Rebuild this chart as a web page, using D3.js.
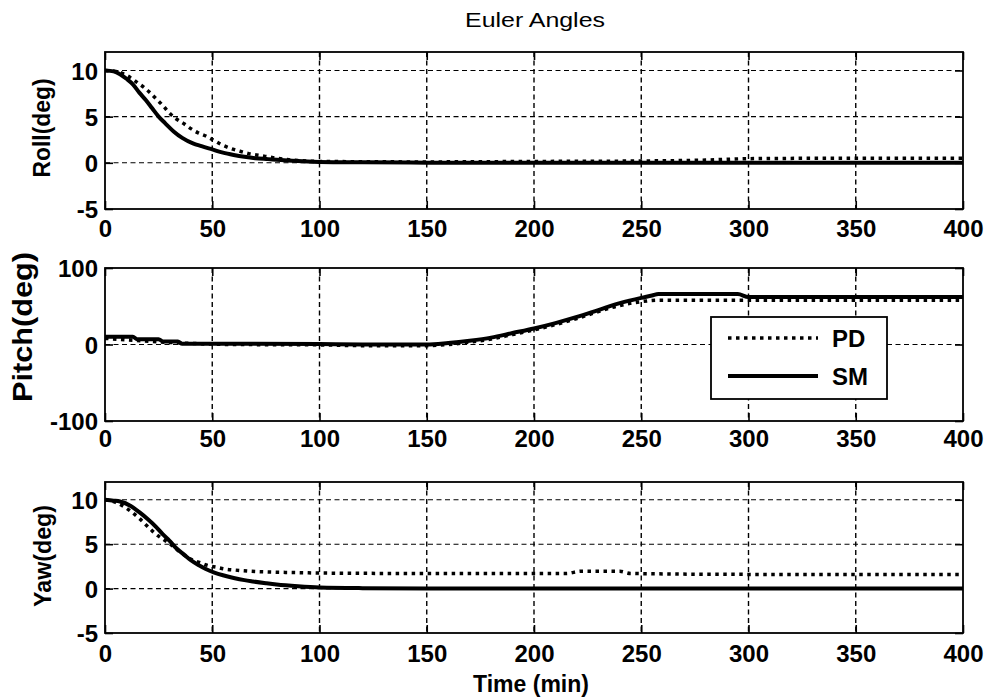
<!DOCTYPE html>
<html>
<head>
<meta charset="utf-8">
<script src="https://cdn.jsdelivr.net/npm/d3@7"></script>
<style>
  html, body { margin: 0; padding: 0; background: #fff; }
  svg { display: block; }
  text { font-family: "Liberation Sans", Arial, Helvetica, sans-serif; fill: #000; }
</style>
</head>
<body>
<svg id="chart" width="991" height="700"></svg>
<script>
// ---- data: time (min) and angle (deg) samples for each controller ----
const xTicks = [0, 50, 100, 150, 200, 250, 300, 350, 400];
const angleTicks = [-5, 0, 5, 10];
const pitchTicks = [-100, 0, 100];

const rollSM_t = [0, 4, 7, 10, 13, 16, 19, 22, 25, 28, 32, 36, 41, 45, 50, 55, 60, 65, 70, 76, 82, 90, 100, 120, 150, 200, 250, 300, 350, 400];
const rollSM_v = [10, 9.9, 9.6, 9.1, 8.5, 7.6, 6.8, 5.9, 5.0, 4.3, 3.4, 2.7, 2.1, 1.8, 1.45, 1.1, 0.85, 0.65, 0.5, 0.4, 0.3, 0.2, 0.1, 0.05, 0.02, 0, 0, 0, 0, 0];
const rollPD_t = [0, 5, 9, 12, 15, 18, 21, 24, 27, 30, 33, 37, 40, 43, 47, 51, 54, 57, 60, 63, 67, 72, 76, 80, 85, 90, 100, 150, 200, 250, 280, 300, 350, 400];
const rollPD_v = [10, 9.9, 9.6, 9.2, 8.7, 8.2, 7.6, 6.9, 6.2, 5.4, 4.8, 4.2, 3.7, 3.3, 2.9, 2.4, 2.0, 1.7, 1.45, 1.25, 1.0, 0.8, 0.65, 0.5, 0.35, 0.25, 0.15, 0.1, 0.15, 0.2, 0.3, 0.45, 0.5, 0.5];

const pitchSM_t = [0, 13, 15, 25, 27, 34, 36, 60, 100, 120, 150, 160, 170, 180, 190, 200, 210, 220, 230, 240, 250, 255, 258, 295, 300, 400];
const pitchSM_v = [10, 10, 7, 7, 4, 4, 1, 1, 0.5, 0, 0, 2, 5, 9, 15, 21, 28, 36, 45, 54, 61, 64, 66, 66, 62, 62];
const pitchPD_t = [0, 35, 60, 100, 120, 150, 160, 170, 180, 190, 200, 210, 220, 230, 240, 250, 258, 400];
const pitchPD_v = [8, 2, 0, -0.5, -1.5, -1.5, 0, 3, 7, 13, 19, 26, 34, 43, 51, 56, 58, 58];

const yawSM_t = [0, 4, 7, 12, 16, 20, 24, 27, 30, 33, 37, 40, 44, 47, 51, 55, 60, 65, 69, 75, 80, 90, 100, 120, 150, 400];
const yawSM_v = [10, 9.9, 9.8, 9.3, 8.6, 7.8, 6.9, 6.1, 5.4, 4.6, 3.8, 3.2, 2.6, 2.2, 1.8, 1.5, 1.2, 0.95, 0.8, 0.6, 0.45, 0.25, 0.12, 0.05, 0.02, 0];
const yawPD_t = [0, 5, 9, 12, 16, 19, 22, 25, 28, 31, 35, 38, 41, 44, 48, 52, 56, 60, 68, 79, 90, 100, 150, 215, 222, 240, 245, 300, 400];
const yawPD_v = [10, 9.7, 9.2, 8.7, 7.9, 7.2, 6.5, 5.9, 5.4, 4.9, 4.1, 3.6, 3.2, 2.95, 2.6, 2.4, 2.2, 2.1, 1.95, 1.85, 1.8, 1.75, 1.7, 1.7, 1.95, 1.95, 1.7, 1.6, 1.6];

const seriesNames = ["PD", "SM"];

// ---- layout ----
const svg = d3.select("#chart");
const xLeft = 105, xRight = 963;
const x = d3.scaleLinear().domain([0, 400]).range([xLeft, xRight]);

const panels = [
  { label: "Roll(deg)", top: 52, bottom: 209, domain: [-5, 12], ticks: angleTicks, grid: angleTicks,
    pd: [rollPD_t, rollPD_v], sm: [rollSM_t, rollSM_v], labelSize: 24, labelLen: 99, labelX: 50, labelY: 128, tickDy: 28 },
  { label: "Pitch(deg)", top: 268, bottom: 421, domain: [-100, 100], ticks: pitchTicks, grid: [0],
    pd: [pitchPD_t, pitchPD_v], sm: [pitchSM_t, pitchSM_v], labelSize: 27, labelLen: 150, labelX: 32, labelY: 327, tickDy: 26 },
  { label: "Yaw(deg)", top: 482, bottom: 633, domain: [-5, 12], ticks: angleTicks, grid: angleTicks,
    pd: [yawPD_t, yawPD_v], sm: [yawSM_t, yawSM_v], labelSize: 24, labelLen: 102, labelX: 51, labelY: 556, tickDy: 29 }
];

const zip = (t, v) => t.map((d, i) => [d, v[i]]);
const plain = d => String(d);
const gridDash = "5,3.5";
const pdDash = "3.5,4.5";

panels.forEach((p, i) => {
  const y = d3.scaleLinear().domain(p.domain).range([p.bottom, p.top]);
  const g = svg.append("g");
  const clipId = "clip" + i;
  svg.append("clipPath").attr("id", clipId)
    .append("rect").attr("x", xLeft).attr("y", p.top)
    .attr("width", xRight - xLeft).attr("height", p.bottom - p.top);

  // grid
  g.append("g").selectAll("line").data(xTicks.slice(1, -1)).join("line")
    .attr("x1", d => x(d)).attr("x2", d => x(d))
    .attr("y1", p.top).attr("y2", p.bottom)
    .attr("stroke", "#000").attr("stroke-width", 1.4).attr("stroke-dasharray", gridDash);
  g.append("g").selectAll("line").data(p.grid.filter(d => d > p.domain[0] && d < p.domain[1])).join("line")
    .attr("x1", xLeft).attr("x2", xRight)
    .attr("y1", d => y(d)).attr("y2", d => y(d))
    .attr("stroke", "#000").attr("stroke-width", 1.1).attr("stroke-dasharray", gridDash);

  // axes (ticks pointing inward, on all four sides)
  const bottomAxis = d3.axisBottom(x).tickValues(xTicks).tickSize(-8).tickPadding(0).tickFormat(plain);
  const topAxis = d3.axisTop(x).tickValues(xTicks).tickSize(-8).tickFormat("");
  const leftAxis = d3.axisLeft(y).tickValues(p.ticks).tickSize(-8).tickPadding(7).tickFormat(plain);
  const rightAxis = d3.axisRight(y).tickValues(p.ticks).tickSize(-8).tickFormat("");

  const gb = g.append("g").attr("transform", `translate(0,${p.bottom})`).call(bottomAxis);
  gb.selectAll("text").attr("y", p.tickDy).attr("dy", 0);
  g.append("g").attr("transform", `translate(0,${p.top})`).call(topAxis);
  const gl = g.append("g").attr("transform", `translate(${xLeft},0)`).call(leftAxis);
  gl.selectAll("text").attr("dy", "0.36em");
  g.append("g").attr("transform", `translate(${xRight},0)`).call(rightAxis);

  g.selectAll(".domain").remove();
  g.selectAll(".tick line").attr("stroke", "#000").attr("stroke-width", 1.6);
  g.selectAll(".tick text").attr("font-size", 24).attr("font-weight", "bold")
    .attr("font-family", "'Liberation Sans', Arial, sans-serif").attr("fill", "#000");

  // series
  const line = d3.line().x(d => x(d[0])).y(d => y(d[1])).curve(d3.curveMonotoneX);
  const plot = g.append("g").attr("clip-path", `url(#${clipId})`);
  plot.append("path").datum(zip(p.pd[0], p.pd[1]))
    .attr("d", line).attr("fill", "none").attr("stroke", "#000")
    .attr("stroke-width", 3.5).attr("stroke-dasharray", pdDash);
  plot.append("path").datum(zip(p.sm[0], p.sm[1]))
    .attr("d", line).attr("fill", "none").attr("stroke", "#000")
    .attr("stroke-width", 4);

  // frame
  g.append("rect").attr("x", xLeft).attr("y", p.top)
    .attr("width", xRight - xLeft).attr("height", p.bottom - p.top)
    .attr("fill", "none").attr("stroke", "#000").attr("stroke-width", 1.8);

  // y label
  svg.append("text")
    .attr("transform", `translate(${p.labelX},${p.labelY}) rotate(-90)`)
    .attr("text-anchor", "middle").attr("font-size", p.labelSize).attr("font-weight", "bold")
    .attr("textLength", p.labelLen).attr("lengthAdjust", "spacingAndGlyphs")
    .text(p.label);
});

// title and x label
svg.append("text").attr("x", 535).attr("y", 27).attr("text-anchor", "middle")
  .attr("font-size", 20).attr("textLength", 140).attr("lengthAdjust", "spacingAndGlyphs")
  .text("Euler Angles");
svg.append("text").attr("x", 531).attr("y", 692).attr("text-anchor", "middle")
  .attr("font-size", 23).attr("font-weight", "bold").text("Time (min)");

// legend inside the pitch panel
const legend = svg.append("g");
legend.append("rect").attr("x", 711).attr("y", 317).attr("width", 176).attr("height", 82)
  .attr("fill", "#fff").attr("stroke", "#000").attr("stroke-width", 1.8);
const legendRows = [
  { name: seriesNames[0], dash: pdDash, width: 3.5, ly: 338, ty: 347 },
  { name: seriesNames[1], dash: null, width: 4, ly: 376, ty: 385 }
];
legendRows.forEach(r => {
  legend.append("line").attr("x1", 728).attr("x2", 818).attr("y1", r.ly).attr("y2", r.ly)
    .attr("stroke", "#000").attr("stroke-width", r.width)
    .attr("stroke-dasharray", r.dash);
  legend.append("text").attr("x", 832).attr("y", r.ty)
    .attr("font-size", 24).attr("font-weight", "bold").text(r.name);
});
</script>
</body>
</html>
